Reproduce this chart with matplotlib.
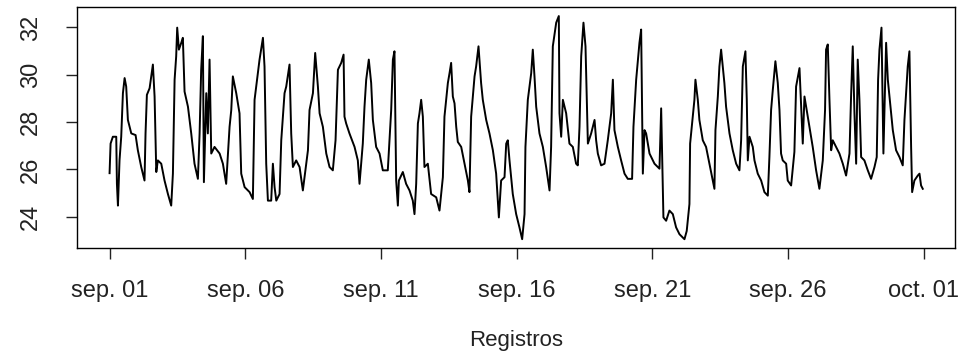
import matplotlib
matplotlib.use('Agg')
import matplotlib.pyplot as plt
import numpy as np

# hours since sep. 01 00:00 and temperature readings
hours = [
    0, 0.9, 2.9, 5.9, 6.5, 7.4, 8.8, 10.3, 11.8, 13.3, 14.7, 16.2, 19.2, 23.0,
    25.0, 28.0, 30.9, 31.8, 33.0, 35.4, 38.3, 39.8, 41.3, 42.7, 45.7, 48.6,
    51.6, 54.5, 56.0, 57.5, 58.9, 59.8, 61.3, 63.4, 64.8, 66.3, 69.3, 72.2,
    75.1, 78.1, 79.6, 81.0, 82.5, 83.4, 85.5, 86.9, 88.4, 89.9, 92.8, 97.3,
    100.2, 103.1, 106.1, 107.6, 109.0, 112.0, 114.9, 116.4, 119.4, 123.8,
    126.7, 128.2, 132.6, 135.6, 137.0, 138.5, 140.0, 142.9, 144.4, 145.9,
    147.4, 150.3, 151.8, 154.7, 156.2, 159.1, 160.6, 162.1, 165.0, 168.0,
    170.9, 173.9, 175.4, 176.8, 179.8, 181.8, 184.2, 185.7, 188.6, 191.6,
    194.5, 197.4, 199.8, 201.9, 204.8, 206.9, 207.7, 209.2, 212.1, 216.6,
    219.5, 221.0, 223.9, 225.4, 226.9, 229.2, 231.3, 232.8, 235.7, 238.7,
    241.6, 246.0, 247.5, 249.0, 250.5, 251.9, 253.4, 254.9, 255.8, 259.3,
    262.2, 265.2, 268.1, 269.6, 271.1, 272.6, 274.0, 275.5, 277.0, 278.4,
    281.4, 284.3, 288.8, 291.7, 294.7, 296.1, 299.1, 300.6, 302.0, 303.5,
    305.0, 306.5, 307.9, 310.9, 313.8, 316.8, 318.2, 319.7, 322.7, 324.1,
    326.2, 328.5, 330.0, 333.0, 335.9, 338.9, 341.8, 344.2, 346.2, 349.2,
    350.7, 352.1, 353.6, 356.5, 359.5, 362.4, 364.8, 366.9, 367.7, 369.8,
    372.8, 374.2, 375.7, 377.2, 380.1, 383.1, 386.0, 389.0, 390.4, 391.9,
    394.9, 397.2, 397.8, 399.3, 400.8, 403.7, 406.6, 409.6, 412.5, 414.0,
    415.5, 417.0, 419.0, 420.8, 422.0, 422.9, 425.8, 428.8, 430.2, 431.7,
    434.6, 437.6, 440.5, 443.5, 445.0, 446.4, 449.4, 452.3, 455.3, 458.2,
    462.0, 463.2, 465.6, 468.5, 470.0, 471.5, 473.0, 474.4, 477.4, 481.8,
    486.2, 487.7, 488.5, 489.7, 492.1, 495.0, 498.0, 500.9, 503.9, 508.3,
    510.3, 512.7, 513.3, 515.7, 517.1, 518.0, 520.1, 521.5, 524.5, 527.4,
    530.4, 533.3, 534.8, 535.7, 537.8, 539.2, 540.7, 543.6, 545.1, 548.1,
    551.0, 554.0, 556.9, 558.4, 559.9, 562.2, 563.4, 564.3, 565.8, 568.7,
    570.2, 573.1, 576.1, 579.0, 582.0, 583.4, 584.9, 586.4, 588.7, 590.8,
    592.3, 593.7, 595.2, 598.2, 599.6, 602.6, 605.5, 607.0, 610.0, 612.9,
    614.4, 615.9, 618.8, 621.7, 624.7, 627.6, 630.6, 632.6, 633.5, 635.0,
    636.5, 638.0, 639.4, 642.4, 645.3, 648.3, 651.2, 654.2, 655.6, 657.1,
    658.6, 660.1, 661.5, 663.0, 664.5, 667.4, 670.4, 673.3, 676.3, 678.3,
    679.5, 680.7, 682.5, 684.2, 686.6, 688.1, 691.0, 692.5, 695.4, 698.4,
    701.3, 702.8, 705.7, 707.2, 708.7, 709.6, 711.6, 714.6, 716.1, 717.5,
    719.0,
]
temps = [
    25.84, 27.09, 27.38, 27.38, 25.39, 24.47, 26.38, 27.38, 29.22, 29.86, 29.50, 28.09, 27.52, 27.45,
    26.81, 26.10, 25.53, 27.52, 29.15, 29.43, 30.43, 29.08, 25.89, 26.38, 26.24, 25.53,
    24.96, 24.47, 25.82, 29.79, 30.78, 31.99, 31.06, 31.35, 31.56, 29.29, 28.65, 27.52,
    26.24, 25.60, 27.52, 30.21, 31.63, 25.46, 29.22, 27.52, 30.64, 26.67, 26.95, 26.67,
    26.24, 25.39, 27.80, 28.51, 29.93, 29.22, 28.37, 25.82, 25.25, 25.04,
    24.75, 28.94, 30.64, 31.56, 30.35, 26.24, 24.68, 24.68, 26.24, 25.25,
    24.68, 24.96, 27.23, 29.22, 29.50, 30.43, 27.52, 26.10, 26.38, 26.10,
    25.11, 26.24, 26.81, 28.51, 29.22, 30.92, 29.50, 28.37, 27.80, 26.67,
    26.10, 25.96, 27.23, 30.21, 30.50, 30.85, 28.23, 27.94, 27.52, 26.95,
    26.38, 25.39, 27.09, 28.65, 29.79, 30.64, 29.65, 28.09, 26.95, 26.67,
    25.96, 25.96, 27.23, 28.51, 30.64, 30.99, 25.53, 24.47, 25.53, 25.89,
    25.39, 25.11, 24.68, 24.11, 25.39, 27.94, 28.37, 28.94, 28.23, 26.10,
    26.24, 24.96, 24.82, 24.26, 25.67, 28.23, 29.65, 30.07, 30.50, 29.08,
    28.79, 27.80, 27.16, 26.95, 26.24, 25.53, 25.04, 28.23, 29.93, 30.35,
    31.20, 29.65, 28.94, 28.09, 27.52, 26.81, 25.82, 23.97, 25.53, 25.67,
    27.09, 27.23, 26.38, 24.96, 24.11, 23.55, 23.05, 24.11, 26.95, 28.94,
    30.07, 31.06, 29.93, 28.65, 27.52, 26.95, 26.10, 25.11, 26.95, 31.20,
    32.20, 32.48, 28.37, 27.38, 28.94, 28.37, 27.09, 26.95, 26.24, 26.17,
    27.80, 30.78, 32.20, 31.20, 28.94, 27.09, 27.52, 28.09, 27.23, 26.67,
    26.17, 26.24, 27.23, 28.37, 29.79, 27.66, 26.95, 26.38, 25.82, 25.60,
    25.60, 27.80, 29.79, 31.35, 31.91, 25.82, 27.66, 27.52, 26.67, 26.24,
    26.03, 28.58, 26.67, 23.97, 23.83, 24.26, 24.11, 23.55, 23.26, 23.05,
    23.40, 24.54, 27.09, 28.23, 28.94, 29.79, 28.94, 28.09, 27.23, 26.95,
    26.24, 25.53, 25.18, 27.66, 29.08, 30.35, 31.06, 29.65, 28.65, 27.52,
    26.81, 26.24, 25.96, 27.23, 30.35, 30.99, 28.94, 26.38, 27.38, 26.95,
    26.38, 25.82, 25.53, 25.04, 24.89, 26.52, 28.51, 29.36, 30.57, 29.65,
    28.51, 26.67, 26.38, 26.24, 25.53, 25.32, 26.74, 29.50, 30.28, 27.09,
    29.08, 28.65, 27.80, 26.95, 25.96, 25.18, 26.38, 28.51, 31.06, 31.28,
    28.94, 26.81, 27.23, 26.95, 26.67, 26.24, 25.74, 26.67, 29.08, 31.20,
    28.37, 26.24, 30.64, 28.94, 26.52, 26.38, 25.96, 25.60, 26.10, 26.52,
    29.79, 31.06, 31.99, 26.67, 31.35, 29.79, 28.37, 27.66, 26.81, 26.52,
    26.17, 28.09, 30.35, 30.99, 26.95, 25.04, 25.53, 25.74, 25.82, 25.32,
    25.18,
]

tick_days = [0, 5, 10, 15, 20, 25, 30]
tick_labels = ['sep. 01', 'sep. 06', 'sep. 11', 'sep. 16', 'sep. 21', 'sep. 26', 'oct. 01']
y_ticks = [24, 26, 28, 30, 32]

plt.rcParams['font.family'] = ['Liberation Sans', 'DejaVu Sans']

days = np.array(hours) / 24.0

fig = plt.figure(figsize=(9.63, 3.56), dpi=100)
ax = fig.add_axes([0.080, 0.303, 0.912, 0.677])
ax.plot(days, temps, color='black', linewidth=1.4)

pad_x = 0.04 * (days.max() - days.min())
pad_y = 0.04 * (max(temps) - min(temps))
ax.set_xlim(days.min() - pad_x, days.max() + pad_x)
ax.set_ylim(min(temps) - pad_y, max(temps) + pad_y)

ax.set_xticks(tick_days)
ax.set_xticklabels(tick_labels)
ax.set_yticks(y_ticks)
ax.set_yticklabels([str(v) for v in y_ticks], rotation=90, va='center')
ax.tick_params(axis='both', direction='out', length=8, width=1, labelsize=17, colors='#222222')
ax.tick_params(axis='x', pad=15)
ax.tick_params(axis='y', pad=17)
for s in ax.spines.values():
    s.set_linewidth(1.0)
ax.set_xlabel('Registros', fontsize=16, labelpad=20, color='#222222')

fig.savefig('out.png', dpi=100)
